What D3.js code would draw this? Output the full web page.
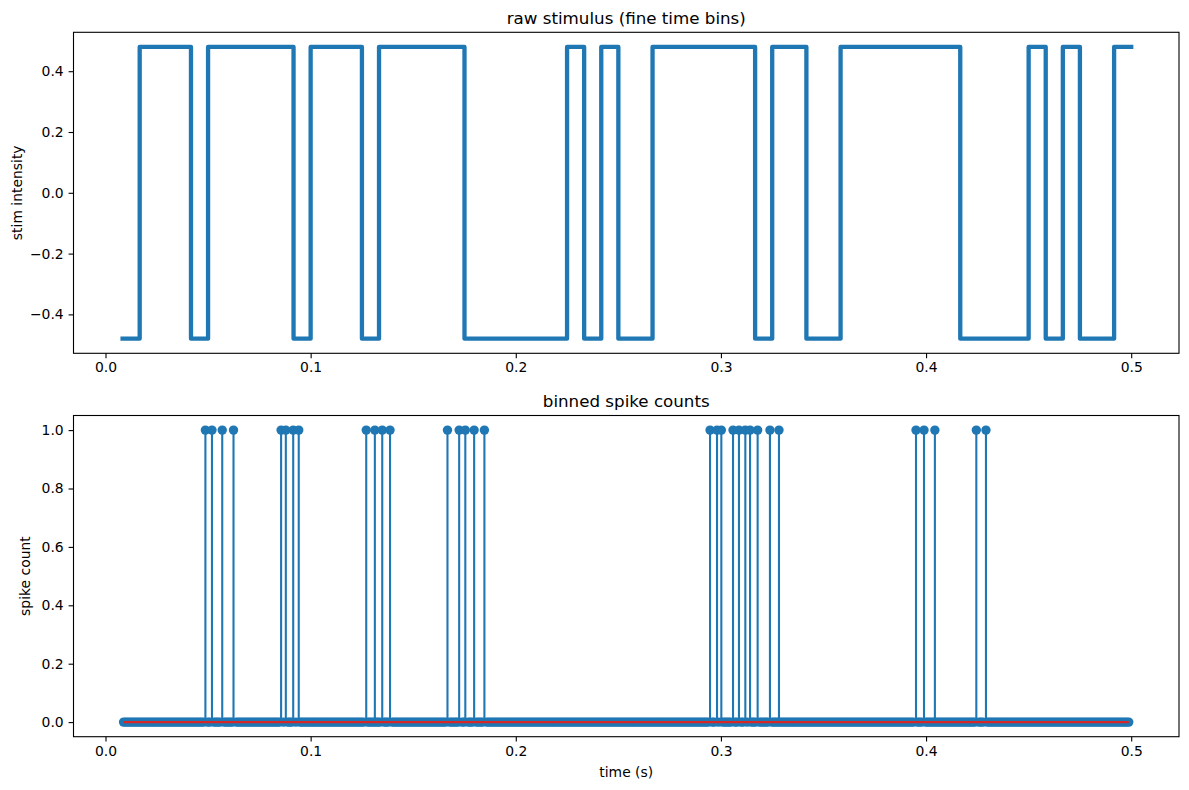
<!DOCTYPE html>
<html>
<head>
<meta charset="utf-8">
<script src="https://cdn.jsdelivr.net/npm/d3@7"></script>
<style>
  body { margin: 0; background: #fff; }
  svg { display: block; font-family: "DejaVu Sans", sans-serif; }
</style>
</head>
<body>
<svg id="chart" width="1189" height="790"></svg>
<script>
// ---------------- data ----------------
// stimulus frame values (frame k at time k/120 s, k = 1..60)
const stimValues = [
  -0.48,
   0.48, 0.48, 0.48,
  -0.48,
   0.48, 0.48, 0.48, 0.48, 0.48,
  -0.48,
   0.48, 0.48, 0.48,
  -0.48,
   0.48, 0.48, 0.48, 0.48, 0.48,
  -0.48, -0.48, -0.48, -0.48, -0.48, -0.48,
   0.48,
  -0.48,
   0.48,
  -0.48, -0.48,
   0.48, 0.48, 0.48, 0.48, 0.48, 0.48,
  -0.48,
   0.48, 0.48,
  -0.48, -0.48,
   0.48, 0.48, 0.48, 0.48, 0.48, 0.48, 0.48,
  -0.48, -0.48, -0.48, -0.48,
   0.48,
  -0.48,
   0.48,
  -0.48, -0.48,
   0.48, 0.48
];
const frameRate = 120;
const stimTimes = stimValues.map((v, i) => (i + 1) / frameRate);

// times (s) of bins containing one spike
const spikeTimes = [
  0.0487, 0.0519, 0.0569, 0.0624,
  0.0856, 0.0879, 0.0915, 0.0942,
  0.1271, 0.1313, 0.1349, 0.1387,
  0.1667, 0.1724, 0.1754, 0.1797, 0.1847,
  0.2947, 0.2981, 0.3002, 0.3059, 0.3088, 0.3119, 0.3142, 0.3179, 0.3239, 0.3283,
  0.3951, 0.3990, 0.4043, 0.4245, 0.4292
];
const spikeCount = 1;
// fine bin grid for binned counts
const binStart = 0.0088, binEnd = 0.4988, binWidth = 0.001;

const xTicks = [0.0, 0.1, 0.2, 0.3, 0.4, 0.5];
const stimYTicks = [-0.4, -0.2, 0.0, 0.2, 0.4];
const countYTicks = [0.0, 0.2, 0.4, 0.6, 0.8, 1.0];

const titles = ["raw stimulus (fine time bins)", "binned spike counts"];
const yLabels = ["stim intensity", "spike count"];
const xLabel = "time (s)";

// ---------------- layout ----------------
const C0 = "#1f77b4", C3 = "#d62728";
const svg = d3.select("#chart");
svg.append("rect").attr("width", 1189).attr("height", 790).attr("fill", "#fff");

const left = 73.5, right = 1179;
const top1 = 32.3, bot1 = 353.3;
const top2 = 415.5, bot2 = 736.7;

const x = d3.scaleLinear().domain([-0.0156, 0.5233]).range([left, right]);
const y1 = d3.scaleLinear().domain([-0.528, 0.528]).range([bot1, top1]);
const y2 = d3.scaleLinear().domain([-0.05, 1.05]).range([bot2, top2]);

const tickLen = 4.9, tickPad = 4.9;
const fmt = d3.format(".1f");

function drawAxes(ys, top, bot, yTicks, title, ylab, ylabX, showXLabel) {
  const g = svg.append("g");
  const xa = g.append("g").attr("transform", `translate(0,${bot})`)
    .call(d3.axisBottom(x).tickValues(xTicks).tickFormat(fmt)
      .tickSizeInner(tickLen).tickSizeOuter(0).tickPadding(tickPad));
  xa.select(".domain").remove();
  xa.selectAll("line").attr("stroke", "#000").attr("stroke-width", 1.1);
  xa.selectAll("text").attr("font-size", 13.9).attr("fill", "#000")
    .attr("font-family", "DejaVu Sans").attr("dy", "0.66em");
  const ya = g.append("g").attr("transform", `translate(${left},0)`)
    .call(d3.axisLeft(ys).tickValues(yTicks).tickFormat(fmt)
      .tickSizeInner(tickLen).tickSizeOuter(0).tickPadding(tickPad));
  ya.select(".domain").remove();
  ya.selectAll("line").attr("stroke", "#000").attr("stroke-width", 1.1);
  ya.selectAll("text").attr("font-size", 13.9).attr("fill", "#000")
    .attr("font-family", "DejaVu Sans");
  g.append("rect").attr("x", left).attr("y", top)
    .attr("width", right - left).attr("height", bot - top)
    .attr("fill", "none").attr("stroke", "#000").attr("stroke-width", 1.1);
  g.append("text").attr("x", (left + right) / 2).attr("y", top - 8.3)
    .attr("text-anchor", "middle").attr("font-size", 16.7).attr("fill", "#000")
    .text(title);
  g.append("text")
    .attr("transform", `translate(${ylabX},${(top + bot) / 2}) rotate(-90)`)
    .attr("text-anchor", "middle").attr("font-size", 13.9).attr("fill", "#000")
    .text(ylab);
  if (showXLabel) {
    g.append("text").attr("x", (left + right) / 2).attr("y", bot + 40.5)
      .attr("text-anchor", "middle").attr("font-size", 13.9).attr("fill", "#000")
      .text(xLabel);
  }
  return g;
}

// ---------------- top: raw stimulus ----------------
const plot1 = svg.append("g");
const stimData = stimTimes.map((t, i) => ({ t, v: stimValues[i] }));
plot1.append("path")
  .datum(stimData)
  .attr("fill", "none")
  .attr("stroke", C0)
  .attr("stroke-width", 4.3)
  .attr("stroke-linejoin", "round")
  .attr("stroke-linecap", "square")
  .attr("d", d3.line().x(d => x(d.t)).y(d => y1(d.v)).curve(d3.curveStepAfter));
drawAxes(y1, top1, bot1, stimYTicks, titles[0], yLabels[0], 22, false);

// ---------------- bottom: binned spike counts ----------------
const plot2 = svg.append("g");
const grid = d3.range(binStart, binEnd + binWidth / 2, binWidth);
const bins = grid
  .filter(t => !spikeTimes.some(s => Math.abs(s - t) < binWidth / 2))
  .map(t => ({ t, c: 0 }))
  .concat(spikeTimes.map(t => ({ t, c: spikeCount })))
  .sort((a, b) => a.t - b.t);

plot2.selectAll("line.stem").data(bins.filter(d => d.c > 0)).join("line")
  .attr("class", "stem")
  .attr("x1", d => x(d.t)).attr("x2", d => x(d.t))
  .attr("y1", y2(0)).attr("y2", d => y2(d.c))
  .attr("stroke", C0).attr("stroke-width", 2.1);
plot2.selectAll("circle.mk").data(bins).join("circle")
  .attr("class", "mk")
  .attr("cx", d => x(d.t)).attr("cy", d => y2(d.c))
  .attr("r", 4.7).attr("fill", C0);
const ext = d3.extent(bins, d => d.t);
plot2.append("line")
  .attr("x1", x(ext[0])).attr("x2", x(ext[1]))
  .attr("y1", y2(0)).attr("y2", y2(0))
  .attr("stroke", C3).attr("stroke-width", 2.1);
drawAxes(y2, top2, bot2, countYTicks, titles[1], yLabels[1], 30, true);
</script>
</body>
</html>
